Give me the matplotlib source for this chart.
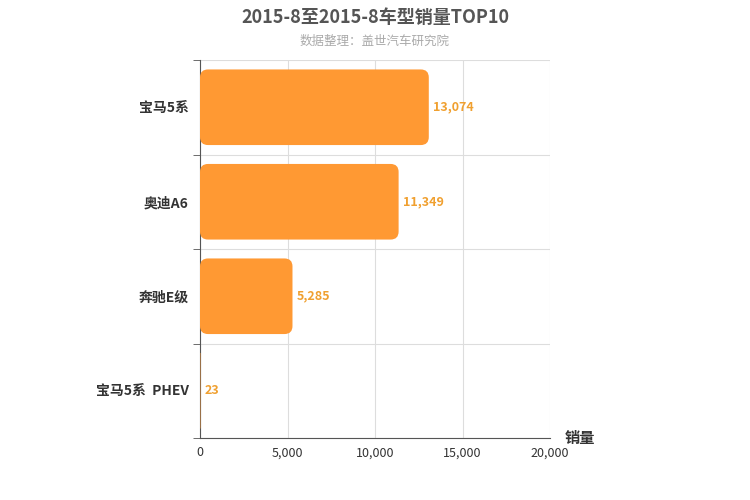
import matplotlib
matplotlib.use("Agg")
import matplotlib.pyplot as plt
from matplotlib.patches import FancyBboxPatch

plt.rcParams['font.family'] = ['Noto Sans CJK SC']

categories = ["宝马5系", "奥迪A6", "奔驰E级", "宝马5系  PHEV"]
values = [13074, 11349, 5285, 23]
xticks = [0, 5000, 10000, 15000, 20000]

fig = plt.figure(figsize=(7.5, 5), dpi=100)
ax = fig.add_axes([200/750, 62/500, 350/750, 378/500])
n = len(categories)
ax.set_xlim(0, 20000)
ax.set_ylim(n - 0.5, -0.5)
ux = 20000/350
uy = n/378
h = 0.8
for i, v in enumerate(values):
    r = min(8*ux, v/2) if v > 0 else 0
    p = FancyBboxPatch((0, i - h/2), v, h,
                       boxstyle=f"round,pad=0,rounding_size={max(r,1)}",
                       mutation_aspect=uy/ux, fc="#FF9933", ec="none", zorder=3)
    ax.add_patch(p)
    ax.text(v + 4*ux, i, f"{v:,}", va="center", ha="left", color="#F0A030",
            fontsize=9, fontweight="bold", zorder=4)

ax.set_xticks(xticks)
ax.set_xticklabels([f"{t:,}" for t in xticks], fontsize=9, color="#333333")
ax.set_yticks(range(n))
ax.set_yticklabels(categories, fontsize=10, fontweight="bold", color="#333333")
ax.set_yticks([i + 0.5 for i in range(-1, n)], minor=True)
ax.tick_params(axis='y', which='major', length=0, pad=8)
ax.tick_params(axis='y', which='minor', length=5, color="#555555")
ax.tick_params(axis='x', length=0, pad=6)
ax.grid(axis='x', color="#dddddd", lw=0.8, zorder=0)
ax.grid(axis='y', which='minor', color="#dddddd", lw=0.8, zorder=0)
for s in ["top", "right"]:
    ax.spines[s].set_visible(False)
ax.spines["left"].set_color("#555555")
ax.spines["bottom"].set_color("#555555")

fig.text(0.5, 0.965, "2015-8至2015-8车型销量TOP10", ha="center", va="center",
         fontsize=13, fontweight="bold", color="#555555")
fig.text(0.5, 0.918, "数据整理：盖世汽车研究院", ha="center", va="center",
         fontsize=9, color="#aaaaaa")
fig.text(565/750, 1 - 438/500, "销量", ha="left", va="center",
         fontsize=11, fontweight="bold", color="#333333")

fig.savefig("out.png", dpi=100)
